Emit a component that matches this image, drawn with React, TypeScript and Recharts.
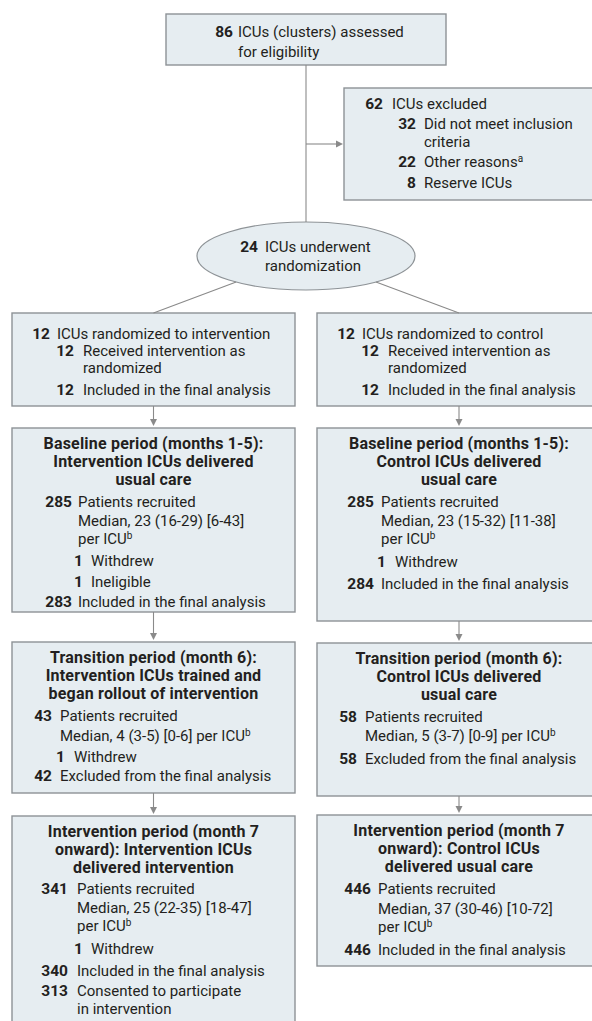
import React from "react";
import { ComposedChart, XAxis, YAxis, ReferenceArea, ReferenceLine } from "recharts";

// level 1 = main item, level 2 = indented sub item
type Row = { level: 1 | 2; n?: number; text: string; sup?: string };

const screenedRows: Row[] = [
  { level: 1, n: 86, text: "ICUs (clusters) assessed" },
  { level: 1, text: "for eligibility" },
];
const excludedRows: Row[] = [
  { level: 1, n: 62, text: "ICUs excluded" },
  { level: 2, n: 32, text: "Did not meet inclusion" },
  { level: 2, text: "criteria" },
  { level: 2, n: 22, text: "Other reasons", sup: "a" },
  { level: 2, n: 8, text: "Reserve ICUs" },
];
const randomizedRows: Row[] = [
  { level: 1, n: 24, text: "ICUs underwent" },
  { level: 1, text: "randomization" },
];
const allocInterventionRows: Row[] = [
  { level: 1, n: 12, text: "ICUs randomized to intervention" },
  { level: 2, n: 12, text: "Received intervention as" },
  { level: 2, text: "randomized" },
  { level: 2, n: 12, text: "Included in the final analysis" },
];
const allocControlRows: Row[] = [
  { level: 1, n: 12, text: "ICUs randomized to control" },
  { level: 2, n: 12, text: "Received intervention as" },
  { level: 2, text: "randomized" },
  { level: 2, n: 12, text: "Included in the final analysis" },
];

const baselineInterventionTitle = ["Baseline period (months 1-5):", "Intervention ICUs delivered", "usual care"];
const baselineInterventionRows: Row[] = [
  { level: 1, n: 285, text: "Patients recruited" },
  { level: 1, text: "Median, 23 (16-29) [6-43]" },
  { level: 1, text: "per ICU", sup: "b" },
  { level: 2, n: 1, text: "Withdrew" },
  { level: 2, n: 1, text: "Ineligible" },
  { level: 1, n: 283, text: "Included in the final analysis" },
];
const baselineControlTitle = ["Baseline period (months 1-5):", "Control ICUs delivered", "usual care"];
const baselineControlRows: Row[] = [
  { level: 1, n: 285, text: "Patients recruited" },
  { level: 1, text: "Median, 23 (15-32) [11-38]" },
  { level: 1, text: "per ICU", sup: "b" },
  { level: 2, n: 1, text: "Withdrew" },
  { level: 1, n: 284, text: "Included in the final analysis" },
];

const transitionInterventionTitle = ["Transition period (month 6):", "Intervention ICUs trained and", "began rollout of intervention"];
const transitionInterventionRows: Row[] = [
  { level: 1, n: 43, text: "Patients recruited" },
  { level: 1, text: "Median, 4 (3-5) [0-6] per ICU", sup: "b" },
  { level: 2, n: 1, text: "Withdrew" },
  { level: 1, n: 42, text: "Excluded from the final analysis" },
];
const transitionControlTitle = ["Transition period (month 6):", "Control ICUs delivered", "usual care"];
const transitionControlRows: Row[] = [
  { level: 1, n: 58, text: "Patients recruited" },
  { level: 1, text: "Median, 5 (3-7) [0-9] per ICU", sup: "b" },
  { level: 1, n: 58, text: "Excluded from the final analysis" },
];

const interventionInterventionTitle = ["Intervention period (month 7", "onward): Intervention ICUs", "delivered intervention"];
const interventionInterventionRows: Row[] = [
  { level: 1, n: 341, text: "Patients recruited" },
  { level: 1, text: "Median, 25 (22-35) [18-47]" },
  { level: 1, text: "per ICU", sup: "b" },
  { level: 2, n: 1, text: "Withdrew" },
  { level: 1, n: 340, text: "Included in the final analysis" },
  { level: 1, n: 313, text: "Consented to participate" },
  { level: 1, text: "in intervention" },
];
const interventionControlTitle = ["Intervention period (month 7", "onward): Control ICUs", "delivered usual care"];
const interventionControlRows: Row[] = [
  { level: 1, n: 446, text: "Patients recruited" },
  { level: 1, text: "Median, 37 (30-46) [10-72]" },
  { level: 1, text: "per ICU", sup: "b" },
  { level: 1, n: 446, text: "Included in the final analysis" },
];

// layout of the diagram (in axis units, 1 unit = 1 px)
type Box = {
  id: string;
  x1: number; x2: number; y1: number; y2: number;
  title?: string[];
  rows: Row[];
  lineY: number[];
  main: [number, number];
  sub?: [number, number];
  ellipse?: boolean;
};

const boxes: Box[] = [
  { id: "screened", x1: 166, x2: 446, y1: 14, y2: 65, rows: screenedRows, lineY: [23, 43], main: [67, 72] },
  { id: "excluded", x1: 344, x2: 601, y1: 88, y2: 200, rows: excludedRows, lineY: [21, 41, 59, 79, 100], main: [39, 48], sub: [72, 80] },
  { id: "randomized", x1: 197, x2: 415, y1: 222, y2: 290, ellipse: true, rows: randomizedRows, lineY: [30, 49], main: [61, 68] },
  { id: "allocI", x1: 12, x2: 295, y1: 313, y2: 406, rows: allocInterventionRows, lineY: [26, 43, 60, 82], main: [38, 45], sub: [62, 71] },
  { id: "allocC", x1: 317, x2: 601, y1: 313, y2: 406, rows: allocControlRows, lineY: [26, 43, 60, 82], main: [38, 45], sub: [62, 71] },
  { id: "baseI", x1: 12, x2: 295, y1: 428, y2: 612, title: baselineInterventionTitle, rows: baselineInterventionRows, lineY: [79, 98, 116, 138, 159, 179], main: [60, 66], sub: [71, 79] },
  { id: "baseC", x1: 317, x2: 601, y1: 428, y2: 621, title: baselineControlTitle, rows: baselineControlRows, lineY: [79, 98, 116, 139, 161], main: [57, 64], sub: [69, 78] },
  { id: "transI", x1: 12, x2: 295, y1: 642, y2: 793, title: transitionInterventionTitle, rows: transitionInterventionRows, lineY: [79, 99, 120, 139], main: [40, 48], sub: [53, 62] },
  { id: "transC", x1: 317, x2: 601, y1: 643, y2: 796, title: transitionControlTitle, rows: transitionControlRows, lineY: [79, 98, 121], main: [40, 48] },
  { id: "intI", x1: 12, x2: 295, y1: 816, y2: 1030, title: interventionInterventionTitle, rows: interventionInterventionRows, lineY: [78, 97, 115, 138, 160, 180, 198], main: [56, 65], sub: [71, 79] },
  { id: "intC", x1: 317, x2: 601, y1: 815, y2: 966, title: interventionControlTitle, rows: interventionControlRows, lineY: [79, 99, 117, 140], main: [54, 61] },
];

const titleY = [21, 39, 57];
const flowPairs = [
  ["allocI", "baseI"], ["baseI", "transI"], ["transI", "intI"],
  ["allocC", "baseC"], ["baseC", "transC"], ["transC", "intC"],
];

const FILL = "#e6edf1";
const BORDER = "#8d9296";
const LINE = "#8a8a8a";
const INK = "#231f20";
const FONT = "Roboto, 'Open Sans', sans-serif";

const byId = (id: string) => boxes.find((b) => b.id === id) as Box;
const cx = (b: Box) => (b.x1 + b.x2) / 2;

type Seg = { a: [number, number]; b: [number, number]; arrow: boolean };

function buildConnectors(): Seg[] {
  const s = byId("screened");
  const ex = byId("excluded");
  const ell = byId("randomized");
  const ecx = cx(ell);
  const ecy = (ell.y1 + ell.y2) / 2;
  const rx = (ell.x2 - ell.x1) / 2;
  const ry = (ell.y2 - ell.y1) / 2;
  const segs: Seg[] = [
    { a: [cx(s), s.y2], b: [cx(s), ell.y1], arrow: false },
    { a: [cx(s), (ex.y1 + ex.y2) / 2], b: [ex.x1 - 1, (ex.y1 + ex.y2) / 2], arrow: true },
  ];
  ["allocI", "allocC"].forEach((id) => {
    const t = byId(id);
    const dx = cx(t) - ecx;
    const dy = t.y1 - ecy;
    const k = 1 / Math.sqrt((dx / rx) ** 2 + (dy / ry) ** 2);
    segs.push({ a: [ecx + dx * k, ecy + dy * k], b: [cx(t), t.y1], arrow: false });
  });
  flowPairs.forEach(([f, t]) => {
    const a = byId(f);
    const b = byId(t);
    segs.push({ a: [cx(a), a.y2], b: [cx(a), b.y1 - 2], arrow: true });
  });
  return segs;
}

const connectors = buildConnectors();

function textRows(box: Box, x: number, y: number, w: number) {
  const title = box.title || [];
  return (
    <g fontFamily={FONT} fill={INK}>
      {title.map((t, i) => (
        <text key={"t" + i} x={x + w / 2} y={y + titleY[i]} textAnchor="middle" fontWeight={700} fontSize={16} letterSpacing={0.2}>
          {t}
        </text>
      ))}
      {box.rows.map((r, i) => {
        const ind = r.level === 2 && box.sub ? box.sub : box.main;
        const ty = y + box.lineY[i];
        return (
          <g key={"r" + i}>
            {r.n !== undefined && (
              <text x={x + ind[0]} y={ty} textAnchor="end" fontWeight={700} fontSize={15.5}>
                {r.n}
              </text>
            )}
            <text x={x + ind[1]} y={ty} fontSize={15}>
              {r.text}
              {r.sup && (
                <tspan fontSize={10} dy={-5}>
                  {r.sup}
                </tspan>
              )}
            </text>
          </g>
        );
      })}
    </g>
  );
}

function boxShape(box: Box) {
  return (props: any) => {
    const { x, y, width, height } = props;
    return (
      <g>
        {box.ellipse ? (
          <ellipse cx={x + width / 2} cy={y + height / 2} rx={width / 2} ry={height / 2} fill={FILL} stroke={BORDER} strokeWidth={1.2} />
        ) : (
          <rect x={x} y={y} width={width} height={height} fill={FILL} stroke={BORDER} strokeWidth={1.4} />
        )}
        {textRows(box, x, y, width)}
      </g>
    );
  };
}

function segShape(seg: Seg) {
  return (props: any) => {
    const { x1, y1, x2, y2 } = props;
    if (!seg.arrow) {
      return <line x1={x1} y1={y1} x2={x2} y2={y2} stroke={LINE} strokeWidth={1.1} />;
    }
    const ang = Math.atan2(y2 - y1, x2 - x1);
    const len = 7;
    const half = 3.5;
    const bx = x2 - len * Math.cos(ang);
    const by = y2 - len * Math.sin(ang);
    const px = -Math.sin(ang) * half;
    const py = Math.cos(ang) * half;
    return (
      <g>
        <line x1={x1} y1={y1} x2={bx} y2={by} stroke={LINE} strokeWidth={1.1} />
        <polygon points={`${x2},${y2} ${bx + px},${by + py} ${bx - px},${by - py}`} fill={LINE} />
      </g>
    );
  };
}

export default function App() {
  return (
    <div style={{ position: "absolute", left: 0, top: 0, width: 592, height: 1021, background: "#fff" }}>
      <ComposedChart width={592} height={1021} margin={{ top: 0, right: 0, bottom: 0, left: 0 }} data={[]}>
        <XAxis type="number" dataKey="x" domain={[0, 592]} hide allowDataOverflow />
        <YAxis type="number" dataKey="y" domain={[0, 1021]} reversed hide allowDataOverflow />
        {connectors.map((c, i) => (
          <ReferenceLine
            key={"c" + i}
            segment={[{ x: c.a[0], y: c.a[1] }, { x: c.b[0], y: c.b[1] }]}
            ifOverflow="visible"
            shape={segShape(c)}
          />
        ))}
        {boxes.map((b) => (
          <ReferenceArea key={b.id} x1={b.x1} x2={b.x2} y1={b.y1} y2={b.y2} ifOverflow="hidden" shape={boxShape(b)} />
        ))}
      </ComposedChart>
    </div>
  );
}
